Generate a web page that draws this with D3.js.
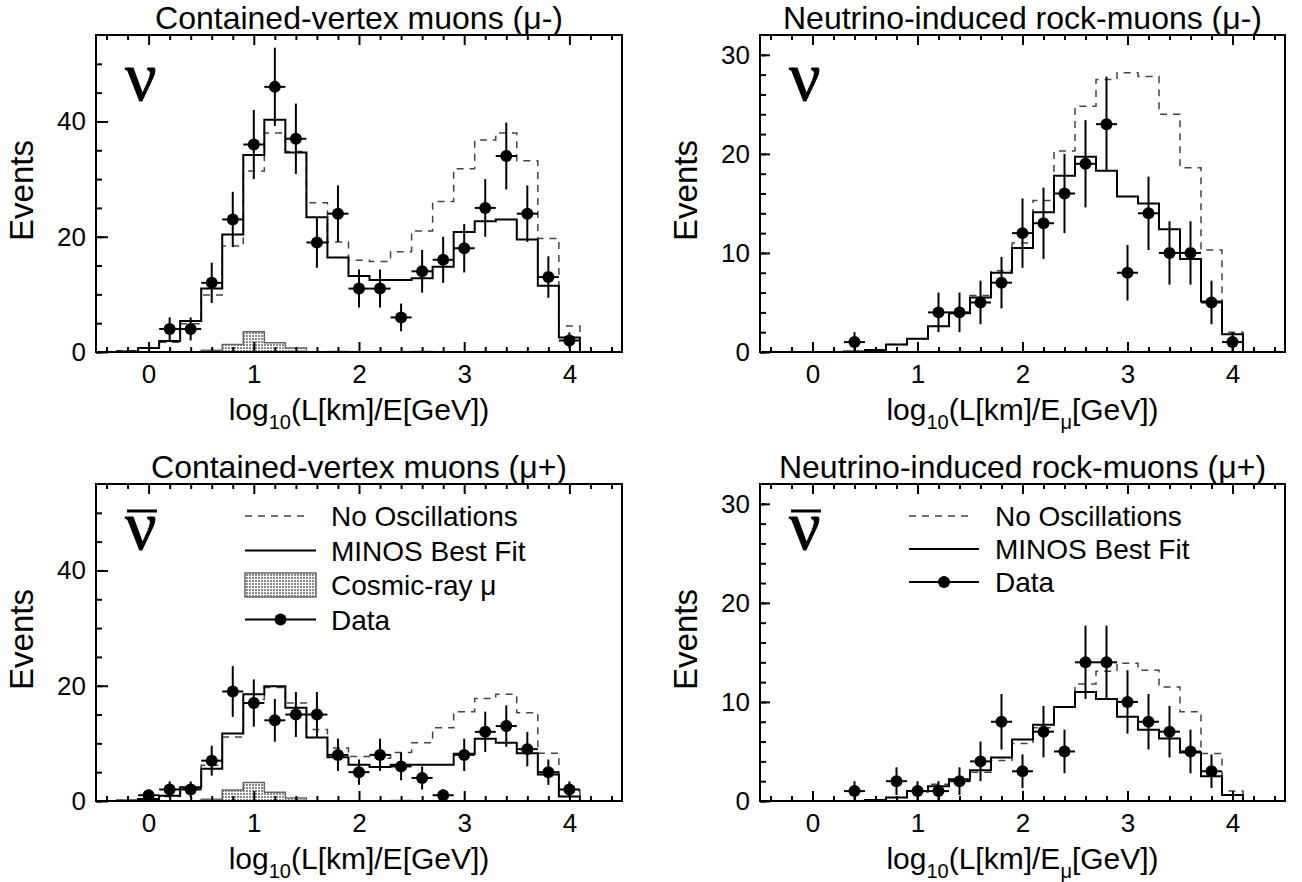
<!DOCTYPE html>
<html><head><meta charset="utf-8">
<script src="https://cdn.jsdelivr.net/npm/d3@7"></script>
<style>body{margin:0;background:#fff} svg{display:block}</style>
</head><body>
<svg id="chart" width="1302" height="882"></svg>
<script>
// ---------------- DATA ----------------
const binHalfWidth = 0.1;
// contained-vertex histogram bins (centres)
const cvBins = [-0.2,0,0.2,0.4,0.6,0.8,1.0,1.2,1.4,1.6,1.8,2.0,2.2,2.4,2.6,2.8,3.0,3.2,3.4,3.6,3.8,4.0];
// rock-muon histogram bins (centres)
const rmBins = [0.4,0.6,0.8,1.0,1.2,1.4,1.6,1.8,2.0,2.2,2.4,2.6,2.8,3.0,3.2,3.4,3.6,3.8,4.0];

// Contained-vertex mu-
const cvMinusNoOsc   = [0.2,0.7,1.7,4.9,9.9,18.4,31.4,38.0,34.8,25.9,19.1,15.9,15.7,17.4,21.0,26.1,31.8,36.8,38.0,33.2,19.7,4.5];
const cvMinusBestFit = [0.1,0.7,1.9,5.4,11.0,20.4,34.2,40.3,34.6,23.4,16.4,13.2,12.5,12.5,12.8,14.8,20.8,22.7,23.0,19.5,11.5,2.5];
const cvMinusCosmic  = [0,0,0,0,0.3,1.3,3.5,1.6,0.7,0,0.1,0,0,0,0.1,0,0,0,0,0,0,0];
const cvMinusDataX   = [0.2,0.4,0.6,0.8,1.0,1.2,1.4,1.6,1.8,2.0,2.2,2.4,2.6,2.8,3.0,3.2,3.4,3.6,3.8,4.0];
const cvMinusDataY   = [4,4,12,23,36,46,37,19,24,11,11,6,14,16,18,25,34,24,13,2];
const cvMinusDataErr = [2.0,2.0,3.5,4.8,6.0,6.8,6.1,4.4,4.9,3.3,3.3,2.4,3.7,4.0,4.2,5.0,5.8,4.9,3.6,1.4];

// Rock muons mu-
const rmMinusNoOsc   = [0.05,0.2,0.75,1.35,2.6,3.9,5.7,8.2,11.0,15.3,20.3,24.8,27.5,28.2,27.8,24.0,18.6,10.3,2.0];
const rmMinusBestFit = [0.05,0.2,0.75,1.35,2.6,3.9,5.5,8.0,10.5,14.1,17.8,19.7,18.3,15.7,15.0,12.4,9.4,5.1,1.8];
const rmMinusDataX   = [0.4,1.2,1.4,1.6,1.8,2.0,2.2,2.4,2.6,2.8,3.0,3.2,3.4,3.6,3.8,4.0];
const rmMinusDataY   = [1,4,4,5,7,12,13,16,19,23,8,14,10,10,5,1];
const rmMinusDataErr = [1.0,2.0,2.0,2.2,2.6,3.5,3.6,4.0,4.4,4.8,2.8,3.7,3.2,3.2,2.2,1.0];

// Contained-vertex mu+
const cvPlusNoOsc   = [0.1,0.3,0.8,2.1,6.2,11.1,17.6,19.7,17.0,12.4,9.2,7.7,7.4,8.4,10.1,12.7,15.5,17.8,18.5,15.3,8.3,1.8];
const cvPlusBestFit = [0.1,0.35,0.9,2.4,5.6,11.7,18.5,19.9,16.2,11.0,7.6,6.3,5.9,6.3,6.3,6.3,8.2,10.8,10.1,8.3,4.6,0.8];
const cvPlusCosmic  = [0,0,0,0,0.3,1.9,3.2,1.5,0.5,0,0,0,0,0.1,0,0,0,0,0,0,0,0];
const cvPlusDataX   = [0.0,0.2,0.4,0.6,0.8,1.0,1.2,1.4,1.6,1.8,2.0,2.2,2.4,2.6,2.8,3.0,3.2,3.4,3.6,3.8,4.0];
const cvPlusDataY   = [1,2,2,7,19,17,14,15,15,8,5,8,6,4,1,8,12,13,9,5,2];
const cvPlusDataErr = [1.0,1.4,1.4,2.6,4.4,4.1,3.7,3.9,3.9,2.8,2.2,2.8,2.4,2.0,1.0,2.8,3.5,3.6,3.0,2.2,1.4];

// Rock muons mu+
const rmPlusNoOsc   = [0,0.1,0.35,0.9,1.7,2.0,2.9,4.1,5.8,7.4,9.5,11.8,13.1,13.9,13.2,11.5,9.0,4.8,1.0];
const rmPlusBestFit = [0,0.1,0.35,1.0,1.5,2.2,3.1,4.4,6.2,7.7,9.5,11.0,10.3,8.5,7.2,6.3,4.9,2.5,0.6];
const rmPlusDataX   = [0.4,0.8,1.0,1.2,1.4,1.6,1.8,2.0,2.2,2.4,2.6,2.8,3.0,3.2,3.4,3.6,3.8];
const rmPlusDataY   = [1,2,1,1,2,4,8,3,7,5,14,14,10,8,7,5,3];
const rmPlusDataErr = [1.0,1.4,1.0,1.0,1.4,2.0,2.8,1.7,2.6,2.2,3.7,3.7,3.2,2.8,2.6,2.2,1.7];

// axes / labels
const xDomain = [-0.5, 4.5];
const xTickValues = [0,1,2,3,4];
const xTickLabels = ["0","1","2","3","4"];
const cvYTicks = [0,20,40];
const cvYTickLabels = ["0","20","40"];
const rmYTicks = [0,10,20,30];
const rmYTickLabels = ["0","10","20","30"];
const titles = ["Contained-vertex muons (\u03bc-)","Neutrino-induced rock-muons (\u03bc-)",
                "Contained-vertex muons (\u03bc+)","Neutrino-induced rock-muons (\u03bc+)"];
const legendLabels = ["No Oscillations","MINOS Best Fit","Cosmic-ray \u03bc","Data"];

// ---------------- DRAW ----------------
const FONT = "'Liberation Sans', Arial, Helvetica, sans-serif";
const svg = d3.select("#chart");
const defs = svg.append("defs");
const pat = defs.append("pattern").attr("id","stip").attr("width",3).attr("height",3)
  .attr("patternUnits","userSpaceOnUse");
pat.append("rect").attr("width",3).attr("height",3).attr("fill","#ffffff");
pat.append("rect").attr("width",2).attr("height",2).attr("fill","#8a8a8a");

function stepPoints(centers, values){
  const pts = [[centers[0]-binHalfWidth, 0]];
  centers.forEach((c,i)=>pts.push([c-binHalfWidth, values[i]]));
  pts.push([centers[centers.length-1]+binHalfWidth, 0]);
  return pts;
}

function drawPanel(p){
  const W = p.width, H = p.height;
  const g = svg.append("g").attr("transform",`translate(${p.left},${p.top})`);
  const x = d3.scaleLinear().domain(xDomain).range([0,W]);
  const y = d3.scaleLinear().domain([0,p.yMax]).range([H,0]);
  const clipId = "clip"+p.id;
  defs.append("clipPath").attr("id",clipId).append("rect").attr("width",W).attr("height",H);
  const plot = g.append("g").attr("clip-path",`url(#${clipId})`);

  const line = d3.line().x(d=>x(d[0])).y(d=>y(d[1])).curve(d3.curveStepAfter);
  if(p.cosmic){
    const area = d3.area().x(d=>x(d[0])).y0(y(0)).y1(d=>y(d[1])).curve(d3.curveStepAfter);
    plot.append("path").datum(stepPoints(p.bins,p.cosmic)).attr("d",area)
      .attr("fill","url(#stip)").attr("stroke","#666").attr("stroke-width",1.5);
  }
  plot.append("path").datum(stepPoints(p.bins,p.noOsc)).attr("d",line)
    .attr("fill","none").attr("stroke","#444").attr("stroke-width",1.5).attr("stroke-dasharray","7,6");
  plot.append("path").datum(stepPoints(p.bins,p.bestFit)).attr("d",line)
    .attr("fill","none").attr("stroke","#000").attr("stroke-width",2);

  const pts = p.dataX.map((d,i)=>({x:d,y:p.dataY[i],e:p.dataErr[i]}));
  const dg = g.append("g");
  dg.selectAll("line.v").data(pts).join("line").attr("class","v")
    .attr("x1",d=>x(d.x)).attr("x2",d=>x(d.x))
    .attr("y1",d=>y(Math.max(0,d.y-d.e))).attr("y2",d=>y(d.y+d.e))
    .attr("stroke","#000").attr("stroke-width",2);
  dg.selectAll("line.h").data(pts).join("line").attr("class","h")
    .attr("x1",d=>x(d.x-binHalfWidth)).attr("x2",d=>x(d.x+binHalfWidth))
    .attr("y1",d=>y(d.y)).attr("y2",d=>y(d.y))
    .attr("stroke","#000").attr("stroke-width",2);
  dg.selectAll("circle").data(pts).join("circle")
    .attr("cx",d=>x(d.x)).attr("cy",d=>y(d.y)).attr("r",6).attr("fill","#000");

  // axes
  const xMinor = d3.range(-0.4,4.41,0.2).filter(v=>Math.abs(v-Math.round(v))>1e-6);
  const styleAxis = sel => { sel.select(".domain").remove(); sel.selectAll("line").attr("stroke","#000").attr("stroke-width",2);
     sel.attr("font-family",FONT).attr("font-size",26); sel.selectAll("text").attr("fill","#000"); };
  g.append("g").attr("transform",`translate(0,${H})`)
    .call(d3.axisBottom(x).tickValues(xTickValues).tickSize(-10).tickPadding(13).tickFormat((d,i)=>xTickLabels[i])).call(styleAxis);
  g.append("g").attr("transform",`translate(0,${H})`)
    .call(d3.axisBottom(x).tickValues(xMinor).tickSize(-5).tickFormat("")).call(styleAxis);
  g.append("g").call(d3.axisTop(x).tickValues(xTickValues).tickSize(-10).tickFormat("")).call(styleAxis);
  g.append("g").call(d3.axisTop(x).tickValues(xMinor).tickSize(-5).tickFormat("")).call(styleAxis);
  g.append("g").call(d3.axisLeft(y).tickValues(p.yTicks).tickSize(-p.yMajLen).tickPadding(10).tickFormat((d,i)=>p.yTickLabels[i])).call(styleAxis);
  g.append("g").call(d3.axisLeft(y).tickValues(d3.range(0,p.yMax,p.yMinorStep)).tickSize(-6).tickFormat("")).call(styleAxis);

  g.append("rect").attr("width",W).attr("height",H).attr("fill","none").attr("stroke","#000").attr("stroke-width",2);

  // titles
  g.append("text").attr("x",W/2).attr("y",-6).attr("text-anchor","middle")
    .attr("font-family",FONT).attr("font-size",32).text(p.title);
  g.append("text").attr("transform",`translate(${-63},${H/2-3}) rotate(-90)`).attr("text-anchor","middle")
    .attr("font-family",FONT).attr("font-size",33).text("Events");
  const xt = g.append("text").attr("x",W/2).attr("y",H+68).attr("text-anchor","middle")
    .attr("font-family",FONT).attr("font-size",30);
  xt.append("tspan").text("log");
  xt.append("tspan").attr("font-size",20).attr("dy",9).text("10");
  if(p.rock){
    xt.append("tspan").attr("dy",-9).text("(L[km]/E");
    xt.append("tspan").attr("font-size",20).attr("dy",9).text("\u03bc");
    xt.append("tspan").attr("dy",-9).text("[GeV])");
  } else {
    xt.append("tspan").attr("dy",-9).text("(L[km]/E[GeV])");
  }

  // nu symbol
  g.append("text").attr("x",29).attr("y",65).attr("font-family","'Liberation Serif', 'Times New Roman', serif")
    .attr("font-size",70).attr("stroke","#000").attr("stroke-width",0.8).text("\u03bd");
  if(p.bar){
    g.append("line").attr("x1",31).attr("x2",61).attr("y1",27).attr("y2",27).attr("stroke","#000").attr("stroke-width",3);
  }

  // legend
  if(p.legend){
    const L = p.legend;
    const lg = g.append("g").attr("font-family",FONT).attr("font-size",28);
    let yy = L.y0;
    L.items.forEach(it=>{
      if(it==="No Oscillations"){
        lg.append("line").attr("x1",L.x1).attr("x2",L.x2-6).attr("y1",yy).attr("y2",yy)
          .attr("stroke","#444").attr("stroke-width",1.5).attr("stroke-dasharray","7,6");
      } else if(it==="MINOS Best Fit"){
        lg.append("line").attr("x1",L.x1).attr("x2",L.x2).attr("y1",yy).attr("y2",yy).attr("stroke","#000").attr("stroke-width",2);
      } else if(it.startsWith("Cosmic")){
        lg.append("rect").attr("x",L.x1).attr("y",yy-12).attr("width",L.x2-L.x1).attr("height",24)
          .attr("fill","url(#stip)").attr("stroke","#666").attr("stroke-width",1.5);
      } else {
        lg.append("line").attr("x1",L.x1).attr("x2",L.x2).attr("y1",yy).attr("y2",yy).attr("stroke","#000").attr("stroke-width",2);
        lg.append("circle").attr("cx",(L.x1+L.x2)/2).attr("cy",yy).attr("r",6).attr("fill","#000");
      }
      lg.append("text").attr("x",L.tx).attr("y",yy+10).text(it);
      yy += L.dy;
    });
  }
}

const panels = [
  {id:0,left:96,top:35,width:526,height:317,yMax:55,yTicks:cvYTicks,yTickLabels:cvYTickLabels,yMinorStep:5,yMajLen:12,
   bins:cvBins,noOsc:cvMinusNoOsc,bestFit:cvMinusBestFit,cosmic:cvMinusCosmic,
   dataX:cvMinusDataX,dataY:cvMinusDataY,dataErr:cvMinusDataErr,title:titles[0],rock:false,bar:false},
  {id:1,left:760,top:35,width:525,height:317,yMax:32,yTicks:rmYTicks,yTickLabels:rmYTickLabels,yMinorStep:2,yMajLen:10,
   bins:rmBins,noOsc:rmMinusNoOsc,bestFit:rmMinusBestFit,cosmic:null,
   dataX:rmMinusDataX,dataY:rmMinusDataY,dataErr:rmMinusDataErr,title:titles[1],rock:true,bar:false},
  {id:2,left:96,top:484,width:526,height:317,yMax:55,yTicks:cvYTicks,yTickLabels:cvYTickLabels,yMinorStep:5,yMajLen:12,
   bins:cvBins,noOsc:cvPlusNoOsc,bestFit:cvPlusBestFit,cosmic:cvPlusCosmic,
   dataX:cvPlusDataX,dataY:cvPlusDataY,dataErr:cvPlusDataErr,title:titles[2],rock:false,bar:true,
   legend:{x1:149,x2:220,tx:235,y0:32,dy:34.5,items:legendLabels}},
  {id:3,left:760,top:484,width:525,height:317,yMax:32,yTicks:rmYTicks,yTickLabels:rmYTickLabels,yMinorStep:2,yMajLen:10,
   bins:rmBins,noOsc:rmPlusNoOsc,bestFit:rmPlusBestFit,cosmic:null,
   dataX:rmPlusDataX,dataY:rmPlusDataY,dataErr:rmPlusDataErr,title:titles[3],rock:true,bar:true,
   legend:{x1:149,x2:219,tx:235,y0:32,dy:33,items:[legendLabels[0],legendLabels[1],legendLabels[3]]}}
];
panels.forEach(drawPanel);
</script>
</body></html>
